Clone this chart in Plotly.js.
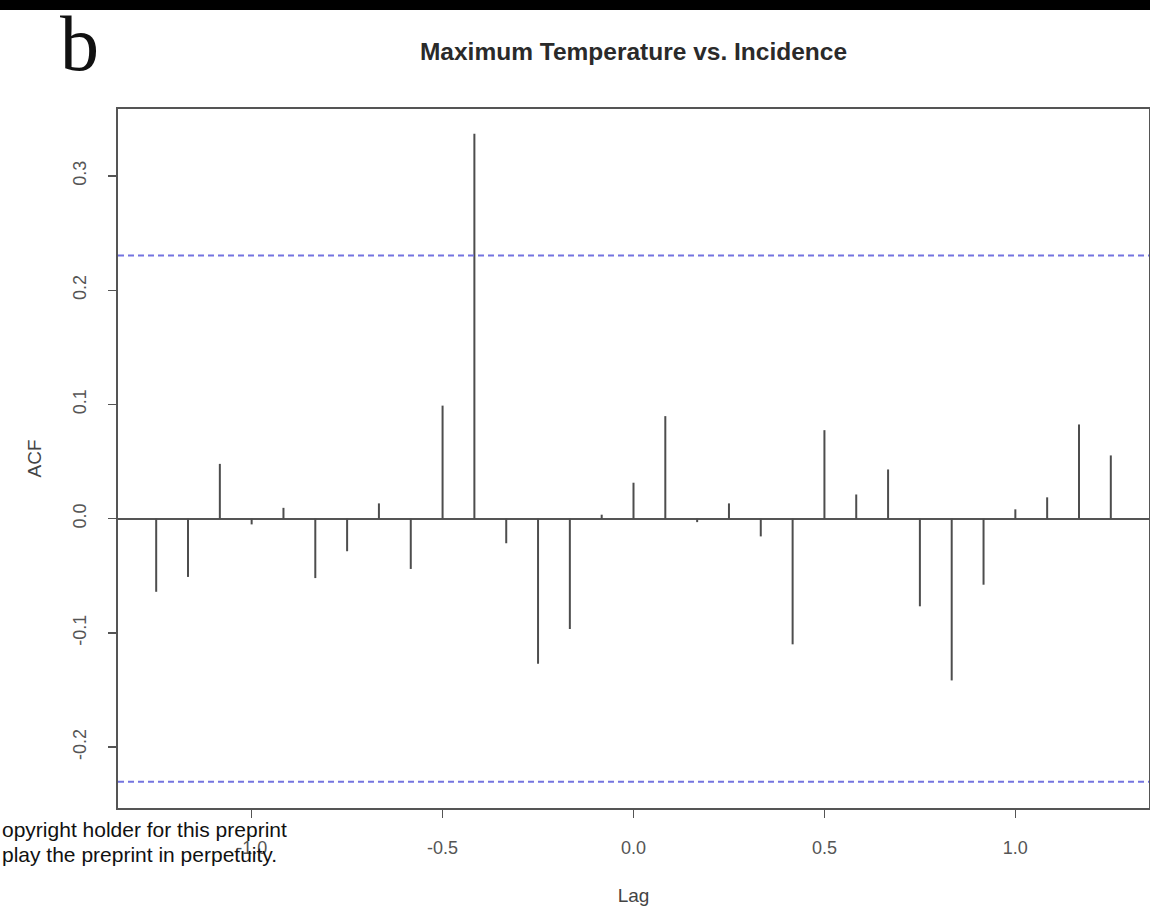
<!DOCTYPE html>
<html>
<head>
<meta charset="utf-8">
<script src="https://cdn.plot.ly/plotly-3.0.1.min.js"></script>
<style>html,body{margin:0;padding:0;background:#fff;}#chart{width:1150px;height:912px;}</style>
</head>
<body>
<div id="chart"></div>
<script>
// ---- data ----
const lags = [-1.25, -1.1667, -1.0833, -1.0, -0.9167, -0.8333, -0.75, -0.6667, -0.5833, -0.5,
              -0.4167, -0.3333, -0.25, -0.1667, -0.0833, 0.0, 0.0833, 0.1667, 0.25, 0.3333,
              0.4167, 0.5, 0.5833, 0.6667, 0.75, 0.8333, 0.9167, 1.0, 1.0833, 1.1667, 1.25];
const acf = [-0.064, -0.051, 0.048, -0.005, 0.0095, -0.052, -0.0285, 0.0134, -0.044, 0.099,
             0.337, -0.0215, -0.127, -0.0966, 0.0035, 0.0315, 0.0898, -0.003, 0.0134, -0.0155,
             -0.110, 0.0775, 0.0212, 0.0431, -0.0767, -0.1416, -0.0578, 0.0082, 0.0187, 0.0825, 0.0554];
const ciBound = 0.2304;
const xTickVals = [-1.0, -0.5, 0.0, 0.5, 1.0];
const xTickText = ["-1.0", "-0.5", "0.0", "0.5", "1.0"];
const yTickVals = [-0.2, -0.1, 0.0, 0.1, 0.2, 0.3];
const yTickText = ["-0.2", "-0.1", "0.0", "0.1", "0.2", "0.3"];
const chartTitle = "Maximum Temperature vs. Incidence";
const xTitle = "Lag";
const yTitle = "ACF";
const panelLetter = "b";
const overlayLines = ["opyright holder for this preprint", "play the preprint in perpetuity."];

// ---- build vertical spikes from the data ----
const sx = [], sy = [];
lags.forEach((l, i) => { sx.push(l, l, null); sy.push(0, acf[i], null); });

// ---- geometry helpers (figure pixels -> paper coords) ----
const W = 1150, H = 912, M = {l: 118, r: 1, t: 109, b: 104};
const PW = W - M.l - M.r, PH = H - M.t - M.b;
const px = x => (x - M.l) / PW;
const py = y => (H - M.b - y) / PH;

const tickFont = {family: "Liberation Sans, Arial, sans-serif", size: 18, color: "#555"};
const titleFont = {family: "Liberation Sans, Arial, sans-serif", size: 19, color: "#444"};

const data = [{
  type: "scatter", mode: "lines", x: sx, y: sy,
  line: {color: "#4d4d4d", width: 2}, hoverinfo: "skip", showlegend: false
}];

const layout = {
  width: W, height: H, margin: M,
  paper_bgcolor: "#fff", plot_bgcolor: "#fff",
  showlegend: false,
  title: {
    text: "<b>" + chartTitle + "</b>",
    font: {family: "Liberation Sans, Arial, sans-serif", size: 24.5, color: "#2a2a2a"},
    x: 0.5, xref: "paper", xanchor: "center",
    y: 1 - 51 / H, yref: "container", yanchor: "middle"
  },
  xaxis: {
    range: [-1.35, 1.35], showgrid: false, zeroline: false,
    showline: true, mirror: true, linecolor: "#555", linewidth: 2,
    ticks: "outside", ticklen: 8, tickwidth: 1.5, tickcolor: "#555",
    tickvals: xTickVals, ticktext: xTickText, tickfont: tickFont,
    ticklabelstandoff: 14,
    title: {text: xTitle, font: titleFont, standoff: 32}
  },
  yaxis: {
    range: [-0.2533, 0.3587], showgrid: false,
    zeroline: true, zerolinecolor: "#555", zerolinewidth: 2,
    showline: true, mirror: true, linecolor: "#555", linewidth: 2,
    ticks: "outside", ticklen: 8, tickwidth: 1.5, tickcolor: "#555",
    tickvals: yTickVals, ticktext: yTickText, tickfont: tickFont, tickangle: -90,
    ticklabelstandoff: 15,
    title: {text: yTitle, font: titleFont, standoff: 23}
  },
  shapes: [
    {type: "line", xref: "paper", x0: 0, x1: 1, yref: "y", y0: ciBound, y1: ciBound,
     line: {color: "#7474e0", width: 2, dash: "6px,4px"}},
    {type: "line", xref: "paper", x0: 0, x1: 1, yref: "y", y0: -ciBound, y1: -ciBound,
     line: {color: "#7474e0", width: 2, dash: "6px,4px"}},
    {type: "rect", xref: "paper", yref: "paper", x0: px(0), x1: px(W), y0: py(10), y1: py(0),
     fillcolor: "#000", line: {width: 0}, layer: "above"}
  ],
  annotations: [
    {text: panelLetter, xref: "paper", yref: "paper", x: px(79), y: py(43),
     xanchor: "center", yanchor: "middle", showarrow: false, height: 70, valign: "middle",
     font: {family: "Liberation Serif, Times New Roman, serif", size: 78, color: "#111"}},
    {text: overlayLines[0], xref: "paper", yref: "paper", x: px(0), y: py(830),
     xanchor: "left", yanchor: "middle", showarrow: false,
     font: {family: "Liberation Sans, Arial, sans-serif", size: 21, color: "#111"}},
    {text: overlayLines[1], xref: "paper", yref: "paper", x: px(0), y: py(854),
     xanchor: "left", yanchor: "middle", showarrow: false,
     font: {family: "Liberation Sans, Arial, sans-serif", size: 21, color: "#111"}}
  ]
};

Plotly.newPlot("chart", data, layout, {staticPlot: true, displayModeBar: false});
</script>
</body>
</html>
